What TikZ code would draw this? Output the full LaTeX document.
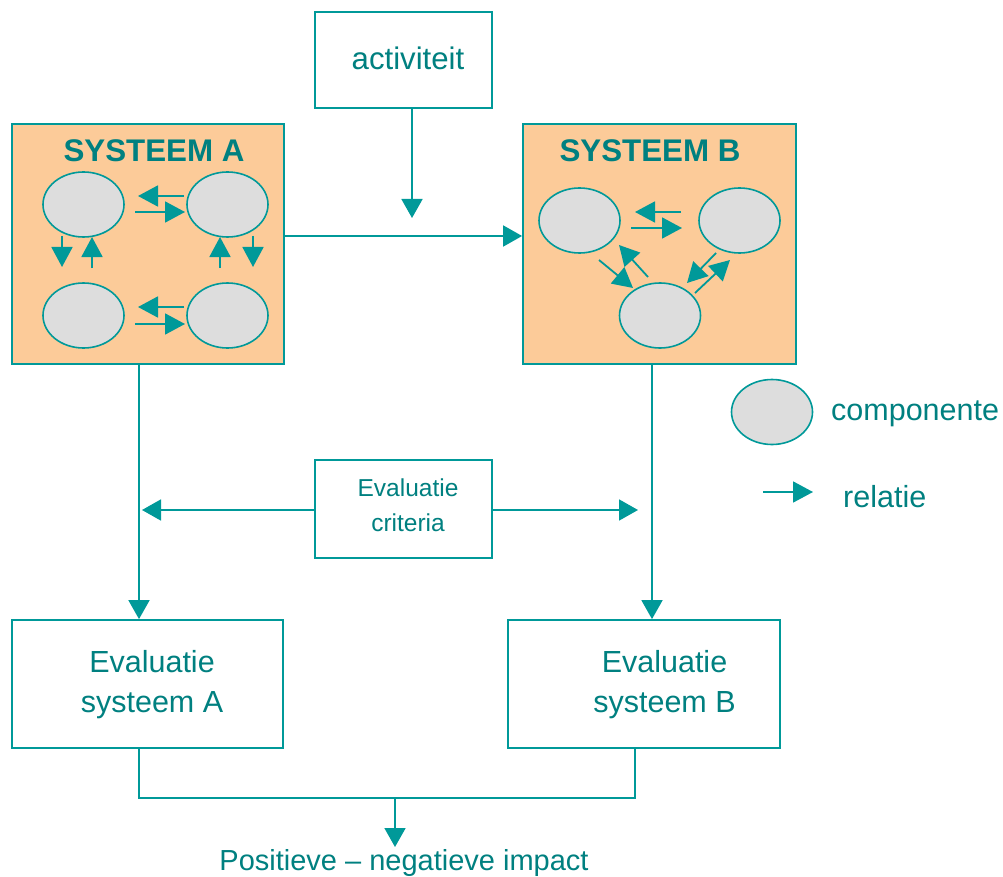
\documentclass[tikz,border=0pt]{standalone}
\usepackage{fontspec}
\setmainfont{Liberation Sans}
\usetikzlibrary{arrows.meta,shapes.geometric}
\definecolor{tline}{RGB}{0,153,153}
\definecolor{ttext}{RGB}{0,128,128}
\definecolor{peach}{RGB}{252,203,153}
\definecolor{cgray}{RGB}{221,221,221}
\begin{document}
\begin{tikzpicture}[x=1pt,y=-1pt,
  box/.style={draw=tline,line width=1.8pt,fill=white,rectangle,inner sep=0pt},
  sysbox/.style={box,fill=peach},
  comp/.style={ellipse,draw=tline,line width=1.6pt,fill=cgray,minimum width=81pt,minimum height=65pt,inner sep=0pt},
  lbl/.style={text=ttext,inner sep=0pt,font=\fontsize{30.5}{40}\selectfont,align=center},
  arr/.style={draw=tline,line width=1.8pt,-{Triangle[length=19pt,width=21pt]}},
  sarr/.style={draw=tline,line width=1.8pt,-{Triangle[length=20pt,width=21pt]}},
  conn/.style={draw=tline,line width=1.8pt}]
\useasboundingbox (0,0) rectangle (1003,877);
% boxes
\node[box,minimum width=177pt,minimum height=96pt] (act) at (403.5,60) {};
\node[lbl,anchor=base,font=\fontsize{31.2}{40}\selectfont] (acttxt) at (408,70) {activiteit};
\node[sysbox,minimum width=272pt,minimum height=240pt] (sysA) at (148,244) {};
\node[sysbox,minimum width=273pt,minimum height=240pt] (sysB) at (659.5,244) {};
\node[lbl,anchor=base,font=\bfseries\fontsize{31.3}{40}\selectfont] (sysAtxt) at (154,162) {SYSTEEM A};
\node[lbl,anchor=base,font=\bfseries\fontsize{31.3}{40}\selectfont] (sysBtxt) at (650,162) {SYSTEEM B};
\node[box,minimum width=177pt,minimum height=98pt] (crit) at (403.5,509) {};
\node[lbl,font=\fontsize{24.5}{35}\selectfont] (crittxt) at (408,505) {Evaluatie\\criteria};
\node[box,minimum width=271pt,minimum height=128pt] (evalA) at (147.5,684) {};
\node[box,minimum width=272pt,minimum height=128pt] (evalB) at (644,684) {};
\node[lbl] (evalAtxt) at (152,685) {Evaluatie\\systeem A};
\node[lbl] (evalBtxt) at (664.5,685) {Evaluatie\\systeem B};
\node[lbl,anchor=base,font=\fontsize{29}{36}\selectfont] (impact) at (404,870) {Positieve -- negatieve impact};
% components A
\node[comp] (a1) at (83.5,204.5) {};
\node[comp] (a2) at (227.5,204.5) {};
\node[comp] (a3) at (83.5,315.5) {};
\node[comp] (a4) at (227.5,315.5) {};
% components B
\node[comp] (b1) at (579.5,220.5) {};
\node[comp] (b2) at (739.5,220.5) {};
\node[comp] (b3) at (660,315.5) {};
% legend
\node[comp] (lcomp) at (772,412) {};
\node[lbl,anchor=base west] (lcomptxt) at (831,420) {componente};
\node[lbl,anchor=base west] (lreltxt) at (843,507) {relatie};
\coordinate (lrelS) at (763,492);
\coordinate (lrelE) at (813,492);
\draw[sarr] (lrelS) -- (lrelE);
% relations in A
\draw[sarr] (184,196) -- (138,196);
\draw[sarr] (135,212) -- (185,212);
\draw[sarr] (62,236) -- (62,267);
\draw[sarr] (92,268) -- (92,237);
\draw[sarr] (220,268) -- (220,237);
\draw[sarr] (253,236) -- (253,267);
\draw[sarr] (184,307) -- (138,307);
\draw[sarr] (135,324) -- (185,324);
% relations in B
\draw[sarr] (681,212) -- (635,212);
\draw[sarr] (631,228) -- (682,228);
\draw[sarr] (599,260) -- (633,288);
\draw[sarr] (648,277) -- (619,245);
\draw[sarr] (716,253) -- (687,283);
\draw[sarr] (695,293) -- (730,260);
% main connectors
\coordinate (actTip) at (412,218);
\draw[arr] (act.south -| actTip) -- (actTip);
\coordinate (abY) at (0,236);
\draw[arr] (sysA.east |- abY) -- (sysB.west |- abY);
\coordinate (xA) at (139,0);
\coordinate (xB) at (652,0);
\draw[arr] (sysA.south -| xA) -- (evalA.north -| xA);
\draw[arr] (sysB.south -| xB) -- (evalB.north -| xB);
\coordinate (critY) at (0,510);
\coordinate (critL) at (142,510);
\coordinate (critR) at (638,510);
\draw[arr] (crit.west |- critY) -- (critL);
\draw[arr] (crit.east |- critY) -- (critR);
\coordinate (jA) at (139,798);
\coordinate (jB) at (635,798);
\coordinate (jM) at (395,798);
\coordinate (impTip) at (395,847);
\draw[conn] (evalA.south -| jA) -- (jA) -- (jB) -- (evalB.south -| jB);
\draw[arr] (jM) -- (impTip);
\end{tikzpicture}
\end{document}
